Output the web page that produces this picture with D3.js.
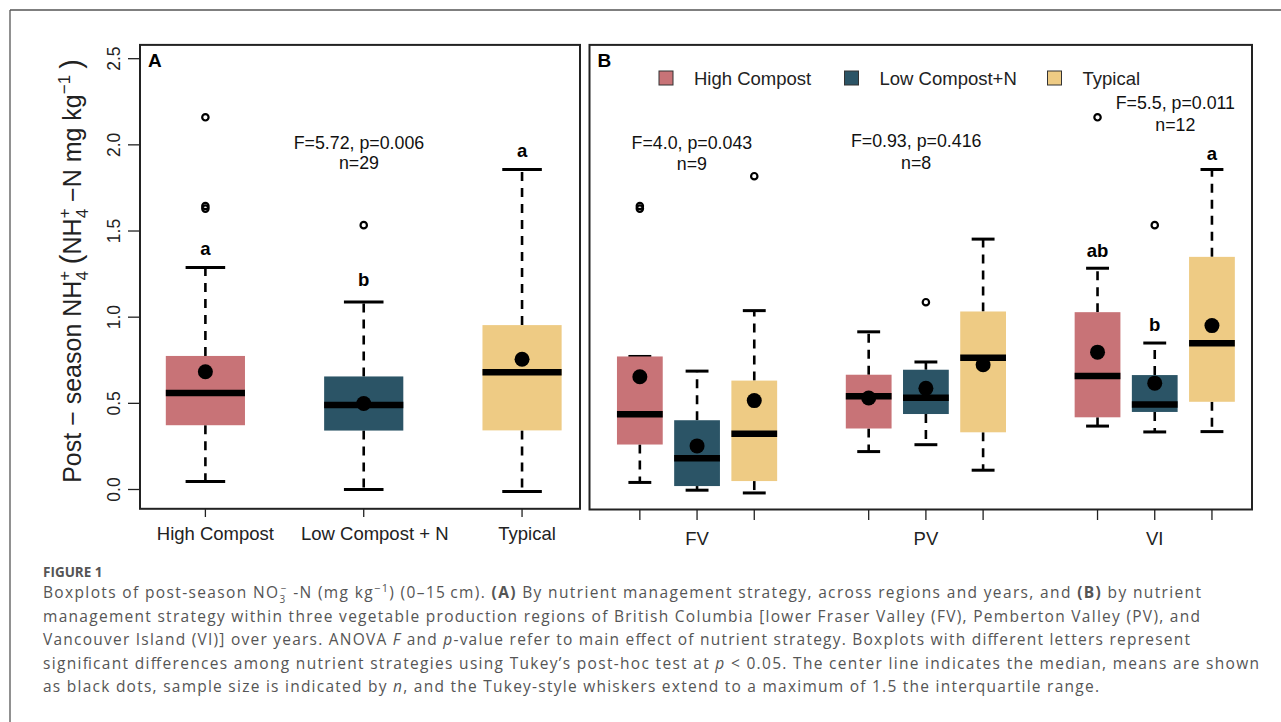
<!DOCTYPE html>
<html>
<head>
<meta charset="utf-8">
<script src="https://cdn.jsdelivr.net/npm/d3@7"></script>
<style>
  html, body { margin: 0; padding: 0; background: #fff; }
  svg { display: block; }
</style>
</head>
<body>
<script>
// ---------------- DATA ----------------
const strategies = ["High Compost", "Low Compost + N", "Typical"];
const legendLabels = ["High Compost", "Low Compost+N", "Typical"];
const regions = ["FV", "PV", "VI"];
const colors = ["#C87377", "#2B5466", "#EECB84"];
const yTicks = [0, 0.5, 1.0, 1.5, 2.0, 2.5];

// Panel A: by strategy
const aLower   = [0.047, 0.000, -0.012];
const aQ1      = [0.373, 0.342, 0.343];
const aMedian  = [0.560, 0.491, 0.680];
const aQ3      = [0.775, 0.656, 0.954];
const aUpper   = [1.288, 1.088, 1.857];
const aMean    = [0.683, 0.499, 0.756];
const aOutliers = [[1.630, 1.645, 2.160], [1.534], []];
const aLetters = ["a", "b", "a"];
const aLetterY = [1.362, 1.182, 1.931];
const aStat = ["F=5.72, p=0.006", "n=29"];

// Panel B: strategy within region (FV H/L/T, PV H/L/T, VI H/L/T)
const bLower   = [0.041, -0.004, -0.020, 0.220, 0.260, 0.112, 0.368, 0.334, 0.336];
const bQ1      = [0.261, 0.020, 0.049, 0.354, 0.438, 0.332, 0.419, 0.450, 0.509];
const bMedian  = [0.436, 0.182, 0.323, 0.541, 0.532, 0.765, 0.658, 0.493, 0.849];
const bQ3      = [0.772, 0.402, 0.632, 0.666, 0.695, 1.033, 1.029, 0.664, 1.350];
const bUpper   = [0.772, 0.687, 1.038, 0.915, 0.740, 1.453, 1.284, 0.850, 1.857];
const bMean    = [0.654, 0.253, 0.516, 0.531, 0.587, 0.724, 0.797, 0.617, 0.951];
const bOutliers = [[1.630, 1.645], [], [1.818], [], [1.087], [], [2.160], [1.534], []];
const bLetters = ["", "", "", "", "", "", "ab", "b", "a"];
const bLetterY = [0, 0, 0, 0, 0, 0, 1.348, 0.920, 1.913];
const bStatF = ["F=4.0, p=0.043", "F=0.93, p=0.416", "F=5.5, p=0.011"];
const bStatN = ["n=9", "n=8", "n=12"];

// ---------------- LAYOUT ----------------
const W = 1281, H = 722;
const svg = d3.select("body").append("svg").attr("width", W).attr("height", H);
const FONT = "'Liberation Sans', Arial, Helvetica, sans-serif";

// outer figure frame (top + left)
svg.append("line").attr("x1", 10).attr("x2", W).attr("y1", 10).attr("y2", 10)
  .attr("stroke", "#555").attr("stroke-width", 1.3);
svg.append("line").attr("x1", 10).attr("x2", 10).attr("y1", 10).attr("y2", H)
  .attr("stroke", "#555").attr("stroke-width", 1.3);

const y = d3.scaleLinear().domain([-0.112, 2.58]).range([508.8, 44.9]);

const aPos = [1, 2, 3];
const bPos = [1, 2, 3, 5, 6, 7, 9, 10, 11];
const regionPos = [2, 6, 10];
const aLabelShift = [10, 11, 5];

const xA = d3.scaleLinear().domain([0.587, 3.366]).range([140, 580]);
const xB = d3.scaleLinear().domain([0.12, 11.70]).range([589.5, 1252]);

function drawBoxes(g, x, pos, lower, q1, med, q3, upper, mean, outliers, halfW, meanR) {
  const idx = d3.range(pos.length);
  const col = i => colors[i % 3];
  // whiskers (dashed)
  g.selectAll(null).data(idx).join("line")
    .attr("x1", i => x(pos[i])).attr("x2", i => x(pos[i]))
    .attr("y1", i => y(q3[i])).attr("y2", i => y(upper[i]))
    .attr("stroke", "#000").attr("stroke-width", 2.6).attr("stroke-dasharray", "9,7");
  g.selectAll(null).data(idx).join("line")
    .attr("x1", i => x(pos[i])).attr("x2", i => x(pos[i]))
    .attr("y1", i => y(q1[i])).attr("y2", i => y(lower[i]))
    .attr("stroke", "#000").attr("stroke-width", 2.6).attr("stroke-dasharray", "9,7");
  // staples
  [upper, lower].forEach(arr => {
    g.selectAll(null).data(idx).join("line")
      .attr("x1", i => x(pos[i] - halfW / 2)).attr("x2", i => x(pos[i] + halfW / 2))
      .attr("y1", i => y(arr[i])).attr("y2", i => y(arr[i]))
      .attr("stroke", "#000").attr("stroke-width", 3);
  });
  // boxes
  g.selectAll(null).data(idx).join("rect")
    .attr("x", i => x(pos[i] - halfW))
    .attr("width", i => x(pos[i] + halfW) - x(pos[i] - halfW))
    .attr("y", i => y(q3[i]))
    .attr("height", i => y(q1[i]) - y(q3[i]))
    .attr("fill", col);
  // medians
  g.selectAll(null).data(idx).join("line")
    .attr("x1", i => x(pos[i] - halfW)).attr("x2", i => x(pos[i] + halfW))
    .attr("y1", i => y(med[i])).attr("y2", i => y(med[i]))
    .attr("stroke", "#000").attr("stroke-width", 6.5);
  // outliers
  const outs = [];
  outliers.forEach((arr, i) => arr.forEach(v => outs.push({ i, v })));
  g.selectAll(null).data(outs).join("circle")
    .attr("cx", d => x(pos[d.i])).attr("cy", d => y(d.v)).attr("r", 3.2)
    .attr("fill", "none").attr("stroke", "#000").attr("stroke-width", 2.2);
  // means
  g.selectAll(null).data(idx).join("circle")
    .attr("cx", i => x(pos[i])).attr("cy", i => y(mean[i])).attr("r", meanR)
    .attr("fill", "#000");
}

// ---------- Panel A ----------
const gA = svg.append("g");
drawBoxes(gA, xA, aPos, aLower, aQ1, aMedian, aQ3, aUpper, aMean, aOutliers, 0.25, 7.5);
gA.append("rect").attr("x", 140).attr("y", 44.9).attr("width", 440).attr("height", 508.8 - 44.9)
  .attr("fill", "none").attr("stroke", "#222").attr("stroke-width", 2);

// y axis
const yAxis = svg.append("g");
yAxis.selectAll(null).data(yTicks).join("line")
  .attr("x1", 128).attr("x2", 140).attr("y1", d => y(d)).attr("y2", d => y(d))
  .attr("stroke", "#222").attr("stroke-width", 1.3);
yAxis.selectAll(null).data(yTicks).join("text")
  .attr("transform", d => `translate(120,${y(d)}) rotate(-90)`)
  .attr("text-anchor", "middle")
  .attr("font-family", FONT).attr("font-size", 17.5).attr("fill", "#222")
  .text(d => d3.format(".1f")(d));

// x axis A
svg.selectAll(null).data(aPos).join("line")
  .attr("x1", d => xA(d)).attr("x2", d => xA(d)).attr("y1", 508.8).attr("y2", 517)
  .attr("stroke", "#222").attr("stroke-width", 1.3);
svg.selectAll(null).data(aPos).join("text")
  .attr("x", (d, i) => xA(d) + aLabelShift[i]).attr("y", 540)
  .attr("text-anchor", "middle").attr("font-family", FONT).attr("font-size", 18.5).attr("fill", "#222")
  .text((d, i) => strategies[i]);

// letters A
gA.selectAll(null).data(aPos).join("text")
  .attr("x", d => xA(d)).attr("y", (d, i) => y(aLetterY[i]))
  .attr("text-anchor", "middle").attr("font-family", FONT).attr("font-weight", "bold")
  .attr("font-size", 18.5).attr("fill", "#000")
  .text((d, i) => aLetters[i]);
// stats A
gA.append("text").attr("x", xA(1.97)).attr("y", y(1.977)).attr("text-anchor", "middle")
  .attr("font-family", FONT).attr("font-size", 17.8).attr("fill", "#111").text(aStat[0]);
gA.append("text").attr("x", xA(1.97)).attr("y", y(1.859)).attr("text-anchor", "middle")
  .attr("font-family", FONT).attr("font-size", 17.8).attr("fill", "#111").text(aStat[1]);
gA.append("text").attr("x", 148).attr("y", 67).attr("font-family", FONT).attr("font-weight", "bold")
  .attr("font-size", 19).attr("fill", "#000").text("A");

// ---------- Panel B ----------
const gB = svg.append("g");
drawBoxes(gB, xB, bPos, bLower, bQ1, bMedian, bQ3, bUpper, bMean, bOutliers, 0.4, 7.5);
gB.append("rect").attr("x", 589.5).attr("y", 44.9).attr("width", 1252 - 589.5).attr("height", 509.5 - 44.9)
  .attr("fill", "none").attr("stroke", "#222").attr("stroke-width", 2);

svg.selectAll(null).data(bPos).join("line")
  .attr("x1", d => xB(d)).attr("x2", d => xB(d)).attr("y1", 509.5).attr("y2", 520)
  .attr("stroke", "#222").attr("stroke-width", 1.3);
svg.selectAll(null).data(regionPos).join("text")
  .attr("x", d => xB(d)).attr("y", 545)
  .attr("text-anchor", "middle").attr("font-family", FONT).attr("font-size", 18.5).attr("fill", "#222")
  .text((d, i) => regions[i]);

gB.selectAll(null).data(bPos.filter((d, i) => bLetters[i])).join("text")
  .attr("x", d => xB(d)).attr("y", d => y(bLetterY[bPos.indexOf(d)]))
  .attr("text-anchor", "middle").attr("font-family", FONT).attr("font-weight", "bold")
  .attr("font-size", 18.5).attr("fill", "#000")
  .text(d => bLetters[bPos.indexOf(d)]);

const bStatX = [1.91, 5.83, 10.36];
const bStatY = [1.977, 1.985, 2.207];
bStatF.forEach((t, i) => {
  gB.append("text").attr("x", xB(bStatX[i])).attr("y", y(bStatY[i])).attr("text-anchor", "middle")
    .attr("font-family", FONT).attr("font-size", 17.8).attr("fill", "#111").text(t);
  gB.append("text").attr("x", xB(bStatX[i])).attr("y", y(bStatY[i] - 0.124)).attr("text-anchor", "middle")
    .attr("font-family", FONT).attr("font-size", 17.8).attr("fill", "#111").text(bStatN[i]);
});
gB.append("text").attr("x", 597.5).attr("y", 67).attr("font-family", FONT).attr("font-weight", "bold")
  .attr("font-size", 19).attr("fill", "#000").text("B");

// legend
const legX = [666, 851.5, 1054.5];
const legG = gB.append("g");
legG.selectAll(null).data(legendLabels).join("rect")
  .attr("x", (d, i) => legX[i] - 7).attr("y", 71).attr("width", 14).attr("height", 14)
  .attr("fill", (d, i) => colors[i]).attr("stroke", "#333").attr("stroke-width", 1);
legG.selectAll(null).data(legendLabels).join("text")
  .attr("x", (d, i) => legX[i] + 28).attr("y", 84.5)
  .attr("font-family", FONT).attr("font-size", 18.5).attr("fill", "#222")
  .text(d => d);

// y-axis title
const yt = svg.append("text")
  .attr("transform", "translate(81,271) rotate(-90)")
  .attr("text-anchor", "middle")
  .attr("font-family", FONT).attr("font-size", 25).attr("fill", "#222");
yt.append("tspan").text("Post \u2212 season NH");
yt.append("tspan").attr("font-size", 17).attr("dy", -11).text("+");
yt.append("tspan").attr("font-size", 17).attr("dx", -9.9).attr("dy", 18).text("4");
yt.append("tspan").attr("font-size", 29).attr("dx", 7).attr("dy", -7).text("(");
yt.append("tspan").text("NH");
yt.append("tspan").attr("font-size", 17).attr("dy", -11).text("+");
yt.append("tspan").attr("font-size", 17).attr("dx", -9.9).attr("dy", 18).text("4");
yt.append("tspan").attr("dy", -7).text(" \u2212N mg kg");
yt.append("tspan").attr("font-size", 17).attr("dy", -11).text("\u22121");
yt.append("tspan").attr("font-size", 29).attr("dx", 6).attr("dy", 11).text(")");

// ---------- Caption ----------
const CAP = "'Open Sans', 'Noto Sans', sans-serif";
svg.append("text").attr("x", 43).attr("y", 577).attr("font-family", CAP).attr("font-weight", "bold")
  .attr("font-size", 13.5).attr("fill", "#555").text("FIGURE 1");

const capG = svg.append("g").attr("font-family", CAP).attr("font-size", 15.5).attr("fill", "#555");
const capY = [598, 621.5, 645, 668.5, 692];
const capLen = [1158, 1157, 1147, 1216, 1056];
function capLine(k) {
  return capG.append("text").attr("x", 43).attr("y", capY[k])
    .attr("textLength", capLen[k]).attr("lengthAdjust", "spacing");
}
let t = capLine(0);
t.append("tspan").text("Boxplots of post-season NO");
t.append("tspan").attr("font-size", 10).attr("dy", 4.5).text("3");
t.append("tspan").attr("font-size", 10).attr("dx", -5.8).attr("dy", -11).text("\u2212");
t.append("tspan").attr("dy", 6.5).text(" -N (mg kg");
t.append("tspan").attr("font-size", 11).attr("dy", -6).text("\u22121");
t.append("tspan").attr("dy", 6).text(") (0\u201315\u2009cm). ");
t.append("tspan").attr("font-weight", "bold").text("(A)");
t.append("tspan").text(" By nutrient management strategy, across regions and years, and ");
t.append("tspan").attr("font-weight", "bold").text("(B)");
t.append("tspan").text(" by nutrient");

t = capLine(1);
t.text("management strategy within three vegetable production regions of British Columbia [lower Fraser Valley (FV), Pemberton Valley (PV), and");

t = capLine(2);
t.append("tspan").text("Vancouver Island (VI)] over years. ANOVA ");
t.append("tspan").attr("font-style", "italic").text("F");
t.append("tspan").text(" and ");
t.append("tspan").attr("font-style", "italic").text("p");
t.append("tspan").text("-value refer to main effect of nutrient strategy. Boxplots with different letters represent");

t = capLine(3);
t.append("tspan").text("significant differences among nutrient strategies using Tukey\u2019s post-hoc test at ");
t.append("tspan").attr("font-style", "italic").text("p");
t.append("tspan").text(" < 0.05. The center line indicates the median, means are shown");

t = capLine(4);
t.append("tspan").text("as black dots, sample size is indicated by ");
t.append("tspan").attr("font-style", "italic").text("n");
t.append("tspan").text(", and the Tukey-style whiskers extend to a maximum of 1.5 the interquartile range.");
</script>
</body>
</html>
